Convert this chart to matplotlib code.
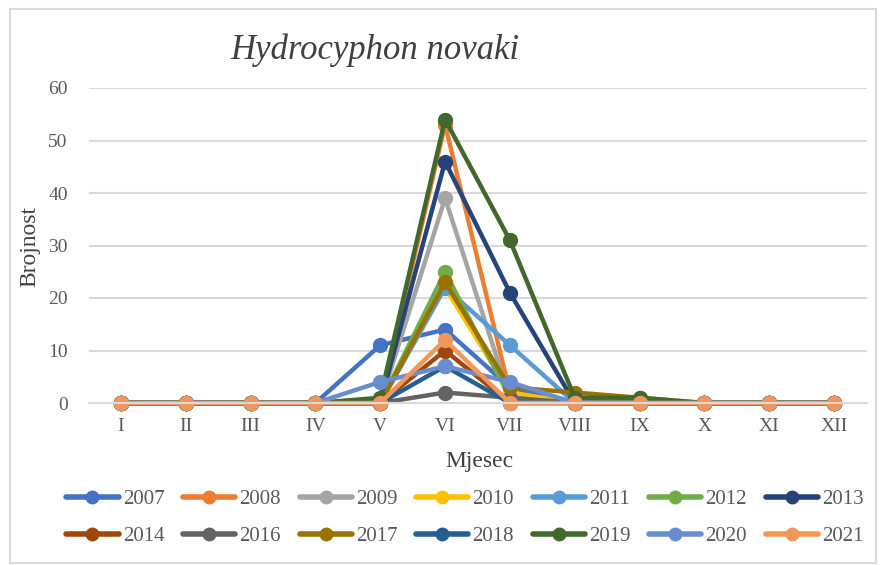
import matplotlib.pyplot as plt
from matplotlib.patches import Rectangle

# donnees
mjeseci = ["I", "II", "III", "IV", "V", "VI", "VII", "VIII", "IX", "X", "XI", "XII"]
godine = ["2007", "2008", "2009", "2010", "2011", "2012", "2013",
          "2014", "2016", "2017", "2018", "2019", "2020", "2021"]

b2007 = [0, 0, 0, 0, 11, 14, 3, 0, 0, 0, 0, 0]
b2008 = [0, 0, 0, 0, 0, 53, 2, 0, 0, 0, 0, 0]
b2009 = [0, 0, 0, 0, 0, 39, 1, 0, 0, 0, 0, 0]
b2010 = [0, 0, 0, 0, 0, 22, 2, 0, 0, 0, 0, 0]
b2011 = [0, 0, 0, 0, 0, 22, 11, 0, 0, 0, 0, 0]
b2012 = [0, 0, 0, 0, 0, 25, 1, 0, 0, 0, 0, 0]
b2013 = [0, 0, 0, 0, 0, 46, 21, 0, 0, 0, 0, 0]
b2014 = [0, 0, 0, 0, 0, 10, 0, 0, 0, 0, 0, 0]
b2016 = [0, 0, 0, 0, 0, 2, 1, 0, 0, 0, 0, 0]
b2017 = [0, 0, 0, 0, 0, 23, 3, 2, 1, 0, 0, 0]
b2018 = [0, 0, 0, 0, 0, 7, 0, 0, 0, 0, 0, 0]
b2019 = [0, 0, 0, 0, 1, 54, 31, 1, 1, 0, 0, 0]
b2020 = [0, 0, 0, 0, 4, 7, 4, 0, 0, 0, 0, 0]
b2021 = [0, 0, 0, 0, 0, 12, 0, 0, 0, 0, 0, 0]

serije = [b2007, b2008, b2009, b2010, b2011, b2012, b2013,
          b2014, b2016, b2017, b2018, b2019, b2020, b2021]
boje = ["#4472C4", "#ED7D31", "#A5A5A5", "#FFC000", "#5B9BD5", "#70AD47", "#264478",
        "#9E480E", "#636363", "#997300", "#255E91", "#43682B", "#698ED0", "#F1975A"]

plt.rcParams['font.family'] = ['Liberation Serif', 'DejaVu Serif']

fig = plt.figure(figsize=(8.8, 5.65), dpi=100)
ax = fig.add_axes([88.5 / 880, 1 - 403 / 565, 778 / 880, 315 / 565])

x = list(range(len(mjeseci)))
linije = []
for godina, vrijednosti, boja in zip(godine, serije, boje):
    l, = ax.plot(x, vrijednosti, color=boja, lw=3.2, marker="o", ms=10,
                 solid_capstyle="round", label=godina, clip_on=False)
    linije.append(l)

ax.set_xlim(-0.5, 11.5)
ax.set_ylim(0, 60)
ax.set_yticks(range(0, 61, 10))
ax.set_xticks(x)
ax.set_xticklabels(mjeseci)
ax.grid(axis="y", color="#D9D9D9", lw=1.5)
ax.set_axisbelow(True)
for s in ["top", "right", "left"]:
    ax.spines[s].set_visible(False)
ax.spines["bottom"].set_color("#D9D9D9")
ax.spines["bottom"].set_linewidth(1.5)
ax.tick_params(length=0, labelsize=14, labelcolor="#595959")
ax.tick_params(axis="x", pad=11)
ax.tick_params(axis="y", pad=15)

fig.text(375 / 880, 1 - 50 / 565, "Hydrocyphon novaki", fontsize=25, style="italic",
         color="#404040", ha="center", va="center")
fig.text(30 / 880, 1 - 247 / 565, "Brojnost", fontsize=17, rotation=90,
         color="#404040", ha="center", va="center")
fig.text(479 / 880, 1 - 462 / 565, "Mjesec", fontsize=17,
         color="#404040", ha="center", va="center")

# legenda po redovima kao u Excelu
red = []
for c in range(7):
    red += [c, c + 7]
leg = fig.legend([linije[i] for i in red], [godine[i] for i in red],
                 loc="center", bbox_to_anchor=(465 / 880, 1 - 518 / 565), ncol=7,
                 frameon=False, fontsize=15, handlelength=2.5, handletextpad=0.2,
                 columnspacing=0.9, labelspacing=0.85, markerscale=0.9)
for t in leg.get_texts():
    t.set_color("#595959")
for h in leg.legend_handles:
    h.set_linewidth(4)

fig.patches.append(Rectangle((10 / 880, 0.003), 866 / 880, 1 - 9 / 565 - 0.003,
                             transform=fig.transFigure, fill=False,
                             edgecolor="#D9D9D9", lw=1.5))

fig.savefig("out.png", dpi=100)
